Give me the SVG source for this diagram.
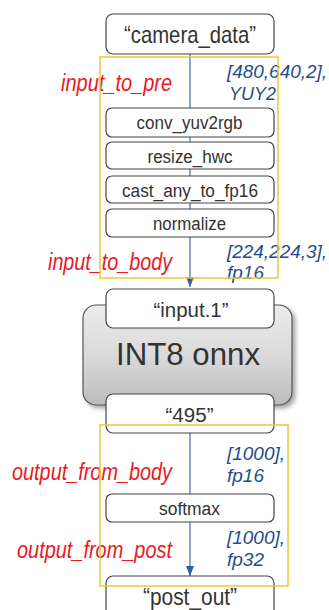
<svg xmlns="http://www.w3.org/2000/svg" width="329" height="610" viewBox="0 0 329 610">
<style>
.node{fill:#fff;stroke:#444;stroke-width:1.2}
.nt{font-family:"Liberation Sans",Arial,sans-serif;fill:#333;text-anchor:middle}
.red{font-family:"Liberation Sans",Arial,sans-serif;font-style:italic;fill:#e8191f;font-size:23px;text-anchor:end}
.blue{font-family:"Liberation Sans",Arial,sans-serif;font-style:italic;fill:#1f4e8c;font-size:18px}
.conn{stroke:#4f78a8;stroke-width:1.3;fill:none}
.ybox{fill:none;stroke:#f0c830;stroke-width:1.5}
</style>
<defs>
<linearGradient id="g" x1="0" y1="0" x2="0" y2="1">
<stop offset="0" stop-color="#ececec"/>
<stop offset="0.5" stop-color="#dadada"/>
<stop offset="1" stop-color="#bcbcbc"/>
</linearGradient>
<filter id="sh" x="-10%" y="-10%" width="125%" height="130%">
<feDropShadow dx="3" dy="3" stdDeviation="2" flood-color="#000" flood-opacity="0.35"/>
</filter>
<marker id="arr" markerWidth="10" markerHeight="8" refX="10" refY="4" orient="auto" markerUnits="userSpaceOnUse">
<path d="M0,0 L10,4 L0,8 z" fill="#2f5f9f"/>
</marker>
</defs>

<g id="labels">
<text class="red" x="172" y="91" textLength="111" lengthAdjust="spacingAndGlyphs">input_to_pre</text>
<text class="red" x="172" y="270" textLength="124" lengthAdjust="spacingAndGlyphs">input_to_body</text>
<text class="red" x="172" y="480" textLength="160" lengthAdjust="spacingAndGlyphs">output_from_body</text>
<text class="red" x="172" y="558" textLength="155" lengthAdjust="spacingAndGlyphs">output_from_post</text>
<text class="blue" x="227" y="78" textLength="100" lengthAdjust="spacingAndGlyphs">[480,640,2],</text>
<text class="blue" x="229" y="100" textLength="47" lengthAdjust="spacingAndGlyphs">YUY2</text>
<text class="blue" x="227" y="258" textLength="100" lengthAdjust="spacingAndGlyphs">[224,224,3],</text>
<text class="blue" x="227" y="279" textLength="37" lengthAdjust="spacingAndGlyphs">fp16</text>
<text class="blue" x="227" y="460" textLength="58" lengthAdjust="spacingAndGlyphs">[1000],</text>
<text class="blue" x="227" y="482" textLength="37" lengthAdjust="spacingAndGlyphs">fp16</text>
<text class="blue" x="227" y="544" textLength="58" lengthAdjust="spacingAndGlyphs">[1000],</text>
<text class="blue" x="227" y="566" textLength="37" lengthAdjust="spacingAndGlyphs">fp32</text>
</g>

<g id="connectors">
<line class="conn" x1="190" y1="54" x2="190" y2="108"/>
<line class="conn" x1="190" y1="137" x2="190" y2="142"/>
<line class="conn" x1="190" y1="169" x2="190" y2="176"/>
<line class="conn" x1="190" y1="203" x2="190" y2="209"/>
<line class="conn" x1="190" y1="237" x2="190" y2="287" marker-end="url(#arr)"/>
<line class="conn" x1="190" y1="433" x2="190" y2="494"/>
<line class="conn" x1="190" y1="522" x2="190" y2="576" marker-end="url(#arr)"/>
</g>

<g id="int8_onnx">
<rect x="83" y="305" width="209" height="100" rx="13" fill="url(#g)" stroke="#555" stroke-width="1.2" filter="url(#sh)"/>
<text class="nt" x="188" y="365" font-size="31" textLength="144" lengthAdjust="spacingAndGlyphs">INT8 onnx</text>
</g>

<g id="camera_data">
<rect class="node" x="106" y="14" width="168" height="40" rx="7"/>
<text class="nt" x="190" y="43" font-size="24" textLength="132" lengthAdjust="spacingAndGlyphs">“camera_data”</text>
</g>
<g id="conv_yuv2rgb">
<rect class="node" x="106" y="108" width="168" height="29" rx="6"/>
<text class="nt" x="189.5" y="129" font-size="18" textLength="106" lengthAdjust="spacingAndGlyphs">conv_yuv2rgb</text>
</g>
<g id="resize_hwc">
<rect class="node" x="106" y="142" width="168" height="27" rx="6"/>
<text class="nt" x="190" y="162.5" font-size="18" textLength="85" lengthAdjust="spacingAndGlyphs">resize_hwc</text>
</g>
<g id="cast_any_to_fp16">
<rect class="node" x="106" y="176" width="168" height="27" rx="6"/>
<text class="nt" x="190" y="196.5" font-size="18" textLength="136" lengthAdjust="spacingAndGlyphs">cast_any_to_fp16</text>
</g>
<g id="normalize">
<rect class="node" x="106" y="209" width="168" height="28" rx="6"/>
<text class="nt" x="189.5" y="230" font-size="18" textLength="73" lengthAdjust="spacingAndGlyphs">normalize</text>
</g>
<g id="input_1">
<rect class="node" x="106" y="289" width="168" height="39" rx="7"/>
<text class="nt" x="191" y="317" font-size="20" textLength="75" lengthAdjust="spacingAndGlyphs">“input.1”</text>
</g>
<g id="n495">
<rect class="node" x="106" y="394" width="168" height="39" rx="7"/>
<text class="nt" x="189.5" y="421.5" font-size="20" textLength="48" lengthAdjust="spacingAndGlyphs">“495”</text>
</g>
<g id="softmax">
<rect class="node" x="106" y="494" width="168" height="28" rx="6"/>
<text class="nt" x="189.5" y="515" font-size="18" textLength="61" lengthAdjust="spacingAndGlyphs">softmax</text>
</g>
<g id="post_out">
<rect class="node" x="106" y="576" width="168" height="44" rx="7"/>
<text class="nt" x="190" y="605" font-size="24" textLength="94" lengthAdjust="spacingAndGlyphs">“post_out”</text>
</g>

<g id="groups">
<rect class="ybox" x="100" y="57" width="178" height="221"/>
<rect class="ybox" x="100" y="425" width="188" height="161"/>
</g>
</svg>
